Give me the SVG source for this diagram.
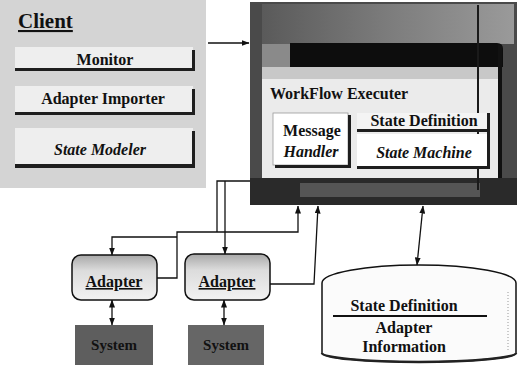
<svg xmlns="http://www.w3.org/2000/svg" width="521" height="366" viewBox="0 0 521 366">
  <style>
    .t { font-family: "Liberation Serif", "Times New Roman", serif; font-weight: bold; font-size: 16px; fill: #111; text-anchor: middle; }
    .s { text-anchor: start; }
    .i { font-style: italic; }
    .u { text-decoration: underline; }
    .f15 { font-size: 15px; }
    .f21 { font-size: 21px; }
    .wire { fill: none; stroke: #111; stroke-width: 1.3; }
    .shadow { fill: #1e1e1e; }
  </style>
  <defs>
    <marker id="head" viewBox="0 0 8 6" refX="7.5" refY="3" markerWidth="8" markerHeight="6" markerUnits="userSpaceOnUse" orient="auto-start-reverse">
      <path d="M0,0 L8,3 L0,6 z" fill="#111"/>
    </marker>
    <linearGradient id="adapterFill" x1="0" y1="0" x2="0" y2="1">
      <stop offset="0" stop-color="#a8a8a8"/>
      <stop offset="0.35" stop-color="#dcdcdc"/>
      <stop offset="1" stop-color="#f2f2f2"/>
    </linearGradient>
    <linearGradient id="execTop" x1="0" y1="0" x2="1" y2="0">
      <stop offset="0" stop-color="#5a5a5a"/>
      <stop offset="0.5" stop-color="#7c7c7c"/>
      <stop offset="1" stop-color="#9a9a9a"/>
    </linearGradient>
  </defs>

  <!-- client panel -->
  <g id="client">
    <rect x="0" y="0" width="206" height="188" fill="#d4d4d4"/>
    <text class="t s u f21" x="18" y="28">Client</text>
  </g>

  <g id="monitor">
    <rect x="15" y="47" width="178" height="22" fill="#eeeeee"/>
    <rect class="shadow" x="15" y="68" width="180" height="3"/>
    <rect class="shadow" x="192" y="50" width="3" height="21"/>
    <text class="t" x="105" y="65">Monitor</text>
  </g>

  <g id="adapter-importer">
    <rect x="15" y="86" width="178" height="27" fill="#eeeeee"/>
    <rect class="shadow" x="15" y="112" width="180" height="3"/>
    <rect class="shadow" x="192" y="89" width="3" height="26"/>
    <text class="t" x="103" y="104">Adapter Importer</text>
  </g>

  <g id="state-modeler">
    <rect x="15" y="128" width="178" height="37" fill="#eeeeee"/>
    <rect class="shadow" x="15" y="164" width="180" height="4"/>
    <rect class="shadow" x="192" y="131" width="3" height="37"/>
    <text class="t i" x="100" y="155">State Modeler</text>
  </g>

  <!-- workflow executer window -->
  <g id="executer">
    <rect x="250" y="2" width="267" height="203" fill="#4a4a4a"/>
    <rect x="262" y="4" width="252" height="40" fill="url(#execTop)"/>
    <rect x="262" y="44" width="30" height="23" fill="#8a8a8a"/>
    <path d="M290,43 L497,43 Q503,43 503,49 L503,67 L290,67 z" fill="#0d0d0d"/>
    <rect x="262" y="67" width="238" height="111" fill="#ebebeb"/>
    <rect x="262" y="67" width="238" height="12" fill="#c8c8c8"/>
    <rect x="498" y="45" width="4" height="135" fill="#111"/>
    <rect x="250" y="178" width="267" height="27" fill="#2a2a2a"/>
    <rect x="300" y="183" width="180" height="14" fill="#555"/>
    <line x1="478" y1="5" x2="478" y2="190" stroke="#1a1a1a" stroke-width="2"/>
    <text class="t s" x="270" y="99">WorkFlow Executer</text>
  </g>

  <g id="message-handler">
    <rect x="273" y="113" width="75" height="52" fill="#ffffff" stroke="#999" stroke-width="0.8"/>
    <rect class="shadow" x="275" y="165" width="76" height="3"/>
    <rect class="shadow" x="348" y="115" width="3" height="53"/>
    <text class="t" x="312" y="136">Message</text>
    <text class="t i" x="311" y="157">Handler</text>
  </g>

  <g id="state-definition">
    <rect x="357" y="113" width="131" height="16" fill="#f4f4f4"/>
    <rect class="shadow" x="357" y="129" width="131" height="3"/>
    <text class="t" x="424" y="126">State Definition</text>
  </g>

  <g id="state-machine">
    <rect x="357" y="134" width="131" height="32" fill="#ffffff"/>
    <rect class="shadow" x="357" y="166" width="133" height="3"/>
    <rect class="shadow" x="487" y="113" width="3" height="56"/>
    <text class="t i" x="424" y="158">State Machine</text>
  </g>

  <!-- adapters and the systems they wrap -->
  <g id="adapter-1">
    <rect x="72" y="255" width="85" height="45" rx="9" fill="url(#adapterFill)" stroke="#111" stroke-width="1.5"/>
    <text class="t u" x="114" y="287">Adapter</text>
  </g>

  <g id="adapter-2">
    <rect x="185" y="254" width="85" height="46" rx="9" fill="url(#adapterFill)" stroke="#111" stroke-width="1.5"/>
    <text class="t u" x="227" y="287">Adapter</text>
  </g>

  <g id="system-1">
    <rect x="75" y="325" width="78" height="40" fill="#5e5e5e"/>
    <text class="t f15" x="114" y="350">System</text>
  </g>

  <g id="system-2">
    <rect x="188" y="325" width="76" height="40" fill="#666666"/>
    <text class="t f15" x="226" y="350">System</text>
  </g>

  <!-- repository -->
  <g id="repository">
    <path d="M322,283 A97,18 0 0 1 516,283 L516,353 A97,9 0 0 1 322,353 z" fill="#fbfbfb" stroke="#111" stroke-width="1.5"/>
    <path d="M322,353 A97,9 0 0 0 516,353" fill="none" stroke="#222" stroke-width="2.5"/>
    <line x1="508" y1="292" x2="508" y2="350" stroke="#999" stroke-width="1" stroke-dasharray="1 2"/>
    <text class="t" x="404" y="311">State Definition</text>
    <line x1="333" y1="316" x2="487" y2="316" stroke="#111" stroke-width="2"/>
    <text class="t" x="404" y="333">Adapter</text>
    <text class="t" x="404" y="352">Information</text>
  </g>

  <!-- connectors -->
  <g id="connectors">
    <path class="wire" d="M208,43 L249,43" marker-end="url(#head)"/>
    <path class="wire" d="M250,181 L217,181 L217,232"/>
    <path class="wire" d="M225,181 L225,254" marker-end="url(#head)"/>
    <path class="wire" d="M157,278 L177,278 L177,232 L298,232 L298,206" marker-end="url(#head)"/>
    <path class="wire" d="M177,237 L112,237 L112,255" marker-end="url(#head)"/>
    <path class="wire" d="M270,284 L314,284 L318,206" marker-end="url(#head)"/>
    <path class="wire" d="M423,206 L417,265" marker-start="url(#head)" marker-end="url(#head)"/>
    <path class="wire" d="M112,300 L112,325" marker-start="url(#head)" marker-end="url(#head)"/>
    <path class="wire" d="M224,300 L224,325" marker-start="url(#head)" marker-end="url(#head)"/>
  </g>
</svg>
